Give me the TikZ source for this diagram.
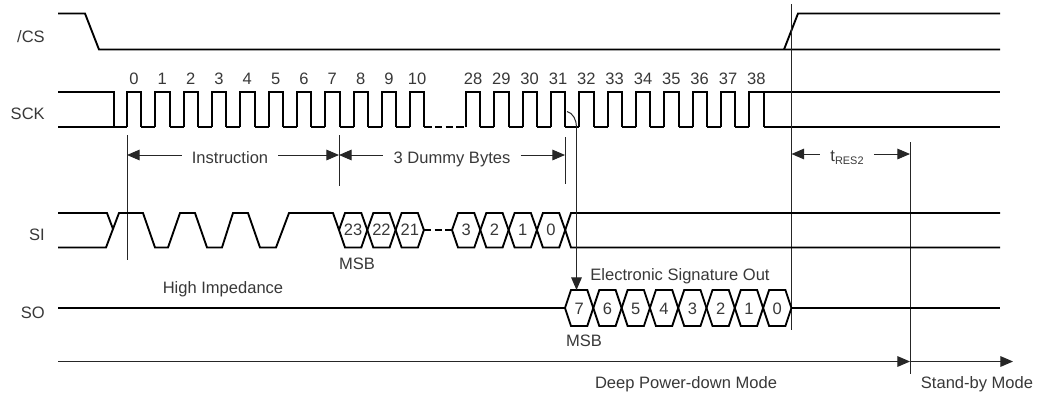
\documentclass[tikz,border=0pt]{standalone}
\usepackage{fontspec}
\setmainfont{Liberation Sans}
\usetikzlibrary{arrows.meta}
\tikzset{
  sig/.style={line width=1.4pt,draw=black,line join=miter},
  thin line/.style={line width=0.75pt,draw=black!85},
  dim/.style={line width=0.75pt,draw=black!85},
  tipl/.style={{Triangle[length=9.5pt,width=8pt]}-},
  tipr/.style={-{Triangle[length=9.5pt,width=8pt]}},
  brk/.style={sig,dash pattern=on 5.5pt off 2.5pt},
  txt/.style={inner sep=0pt,anchor=base,font=\fontsize{12.4}{14}\selectfont,text=black!78},
  lbl/.style={txt,anchor=base east},
  gap/.style={txt,inner xsep=7.5pt},
  hexcell/.style={sig,fill=none}
}
\begin{document}
\begin{tikzpicture}[x=0.75pt,y=-0.75pt]
\useasboundingbox (0,0) rectangle (1041,393);
% signal names
\node[lbl] (ncs) at (45,42) {/CS};
\node[lbl] (nsck) at (45,119) {SCK};
\node[lbl] (nsi) at (45,240) {SI};
\node[lbl] (nso) at (45,318) {SO};
% /CS
\draw[sig] (58,13.5) -- (85,13.5) -- (99,49.5) -- (1000,49.5);
\draw[sig] (784,49.5) -- (798,13.5) -- (1000,13.5);
% SCK
\draw[sig] (58,92) -- (114,92) -- (114,127);
\draw[sig] (58,127) -- (127,127);
\foreach \x/\v in {127/0,155.3/1,183.6/2,212/3,240.3/4,268.6/5,297/6,325.3/7,353.6/8,382/9,410/10,466/28,494.3/29,522.6/30,551/31,579.3/32,607.6/33,636/34,664.3/35,692.6/36,721/37,749.3/38}{
  \draw[sig] (\x,127) -- (\x,92) -- (\x+14.3,92) -- (\x+14.3,127);
  \node[txt] (clk\v) at (\x+7,84) {\v};
}
\foreach \x in {141.3,169.6,197.9,226.3,254.6,282.9,311.3,339.6,367.9,396.3,480.3,508.6,536.9,565.3,593.6,621.9,650.3,678.6,706.9,735.3}{
  \draw[sig] (\x,127) -- (\x+14,127);
}
\draw[brk] (424.3,127) -- (466,127);
\draw[sig] (749.3,92) -- (1000,92);
\draw[sig] (763.6,127) -- (1000,127);
% timing reference lines
\coordinate (a1) at (127,135);  \coordinate (a2) at (127,260);
\coordinate (b1) at (339,135);  \coordinate (b2) at (339,186);
\coordinate (c1) at (565,137);  \coordinate (c2) at (565,184);
\coordinate (d1) at (791.5,4);  \coordinate (d2) at (791.5,330);
\coordinate (e1) at (910,142);  \coordinate (e2) at (910,374);
\draw[thin line] (a1) -- (a2);
\draw[thin line] (b1) -- (b2);
\draw[thin line] (c1) -- (c2);
\draw[thin line] (d1) -- (d2);
\draw[thin line] (e1) -- (e2);
% dimension arrows
\coordinate (ai) at (127,155); \coordinate (bi) at (339,155);
\coordinate (ci) at (565,155); \coordinate (di) at (791.5,154); \coordinate (ei) at (910,154);
\node[gap] (instr) at (230,163) {Instruction};
\node[gap] (dummy) at (452,163) {3 Dummy Bytes};
\node[gap] (tres) at (847,161) {t\raisebox{-2.5pt}{\fontsize{8.2}{9}\selectfont RES2}};
\draw[dim,tipl] (ai) -- (instr.west |- ai);
\draw[dim,tipr] (instr.east |- bi) -- (bi);
\draw[dim,tipl] (bi) -- (dummy.west |- bi);
\draw[dim,tipr] (dummy.east |- ci) -- (ci);
\draw[dim,tipl] (di) -- (tres.west |- di);
\draw[dim,tipr] (tres.east |- ei) -- (ei);
% SI
\draw[sig] (58,213) -- (107,213) -- (113,229);
\draw[sig] (58,247.5) -- (106,247.5) -- (119,213) -- (143,213) -- (155,247.5) -- (168,247.5) -- (180,213) -- (195,213) -- (207,247.5) -- (222,247.5) -- (233,213) -- (248,213) -- (260,247.5) -- (276,247.5) -- (289,213) -- (333,213) -- (339,230);
\foreach \x/\v/\n in {339/23/p,367.3/22/q,395.6/21/r,452/3/s,480.3/2/t,508.6/1/u,536.9/0/v}{
  \draw[hexcell] (\x,230) -- (\x+6,213) -- (\x+22.3,213) -- (\x+28.3,230) -- (\x+22.3,247.5) -- (\x+6,247.5) -- cycle;
  \node[txt] (si\n) at (\x+14.15,235.5) {\v};
}
\draw[brk] (424,230) -- (452,230);
\draw[sig] (1000,213) -- (571,213) -- (565.2,230) -- (571,247.5) -- (1000,247.5);
% SO
\draw[sig] (58,308) -- (565,308);
\foreach \x/\v in {565/7,593.3/6,621.6/5,649.9/4,678.2/3,706.5/2,734.8/1,763.1/0}{
  \draw[hexcell] (\x,308) -- (\x+6,290) -- (\x+22.3,290) -- (\x+28.3,308) -- (\x+22.3,326) -- (\x+6,326) -- cycle;
  \node[txt] (so\v) at (\x+14.15,314) {\v};
}
\draw[sig] (791.4,308) -- (1000,308);
% clock to data arrow
\coordinate (f0) at (567,111.5); \coordinate (f1) at (576.5,127); \coordinate (f2) at (576.5,290);
\draw[thin line] (f0) .. controls (573,113) and (576.5,120) .. (f1);
\draw[dim,tipr] (f1) -- (f2);
% mode line
\coordinate (m0) at (58,361.5); \coordinate (m1) at (910,361.5); \coordinate (m2) at (1013,361.5);
\draw[dim,tipr] (m0) -- (m1);
\draw[dim,tipr] (m1) -- (m2);
% texts
\node[txt] (high) at (223,293) {High Impedance};
\node[txt] (msba) at (357,269) {MSB};
\node[txt] (msbb) at (584,346) {MSB};
\node[txt] (esig) at (680,280) {Electronic Signature Out};
\node[txt] (deep) at (686,388) {Deep Power-down Mode};
\node[txt] (stby) at (977,388) {Stand-by Mode};
\end{tikzpicture}
\end{document}
